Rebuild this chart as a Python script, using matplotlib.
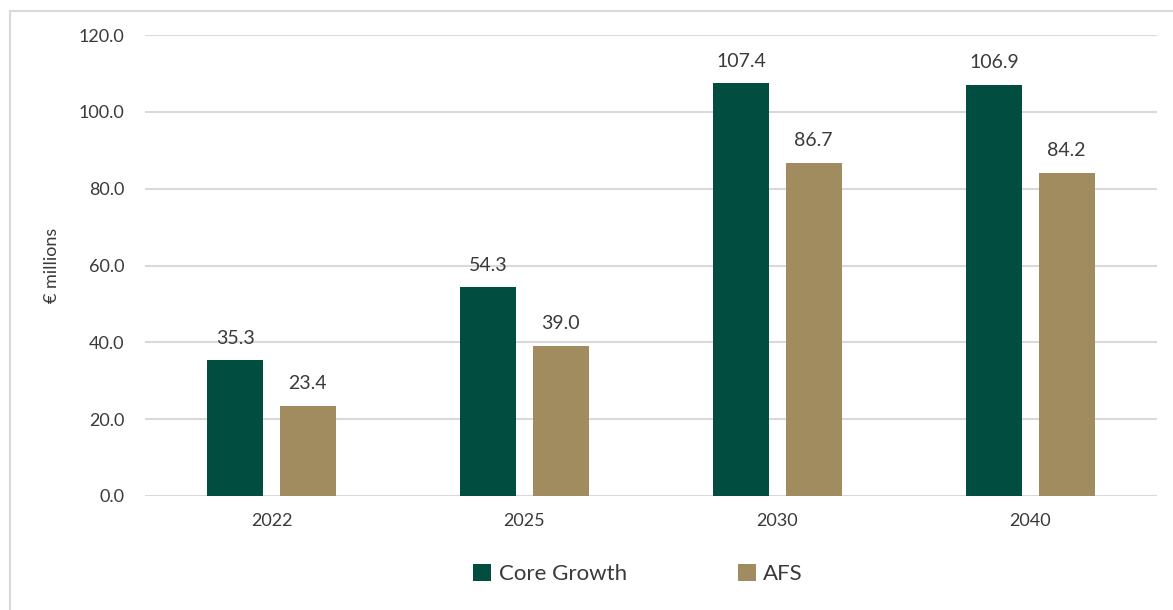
import matplotlib
matplotlib.use("Agg")
import matplotlib.pyplot as plt
from matplotlib.patches import Rectangle
import numpy as np

years = ["2022", "2025", "2030", "2040"]
core_growth = [35.3, 54.3, 107.4, 106.9]
afs = [23.4, 39.0, 86.7, 84.2]
y_ticks = [0, 20, 40, 60, 80, 100, 120]

GREEN = "#014D40"
TAN = "#A08C5E"
TEXT = "#3A3A3A"
GRID = "#D9D9D9"

plt.rcParams["font.family"] = ["Lato", "DejaVu Sans"]

fig = plt.figure(figsize=(11.73, 6.10), dpi=100)
ax = fig.add_axes([145 / 1173, 114 / 610, 1012 / 1173, 461 / 610])

# outer chart frame
fig.patches.append(Rectangle((10 / 1173, -0.5), 2, (610 - 11) / 610 + 0.5,
                             transform=fig.transFigure, fill=False,
                             edgecolor="#D9D9D9", linewidth=1.5, zorder=0))

x = np.arange(len(years))
w = 0.222
off = 0.143
b1 = ax.bar(x - off, core_growth, w, color=GREEN, label="Core Growth", zorder=3)
b2 = ax.bar(x + off, afs, w, color=TAN, label="AFS", zorder=3)

for bars, vals in ((b1, core_growth), (b2, afs)):
    for rect, v in zip(bars, vals):
        ax.annotate(f"{v:.1f}", (rect.get_x() + rect.get_width() / 2, v),
                    xytext=(0, 10), textcoords="offset points",
                    ha="center", va="bottom", fontsize=14, color=TEXT)

ax.set_xlim(-0.5, len(years) - 0.5)
ax.set_ylim(0, 120)
ax.set_yticks(y_ticks)
ax.set_yticklabels([f"{t:.1f}" for t in y_ticks])
ax.set_xticks(x)
ax.set_xticklabels(years)
ax.yaxis.grid(True, color=GRID, linewidth=1.5, zorder=0)
ax.set_axisbelow(True)
for s in ax.spines.values():
    s.set_visible(False)
ax.tick_params(axis="both", length=0, labelsize=13, labelcolor=TEXT)
ax.tick_params(axis="y", pad=15)
ax.tick_params(axis="x", pad=12)
ax.set_ylabel("€ millions", fontsize=13, color=TEXT, labelpad=13)

fig.legend(handles=[b1, b2], loc="center", bbox_to_anchor=(638 / 1173, 1 - 574 / 610),
           ncol=2, frameon=False, fontsize=16, handlelength=0.8, handleheight=0.8,
           handletextpad=0.35, columnspacing=5.0, labelcolor=TEXT)

fig.savefig("out.png", dpi=100)
